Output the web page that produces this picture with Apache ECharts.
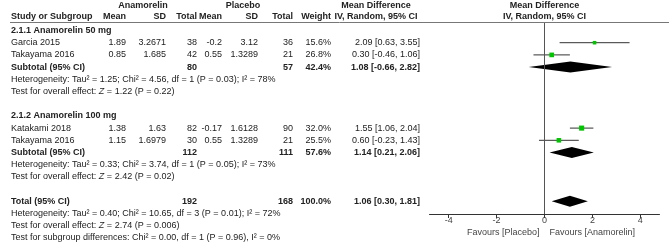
<!DOCTYPE html>
<html>
<head>
<meta charset="utf-8">
<script src="https://cdn.jsdelivr.net/npm/echarts@6/dist/echarts.min.js"></script>
<style>
  html, body { margin: 0; padding: 0; background: #fff; }
  #chart { width: 669px; height: 247px; }
</style>
</head>
<body>
<div id="chart"></div>
<script>
// study level data
const studyNames = ['Garcia 2015', 'Takayama 2016', 'Katakami 2018', 'Takayama 2016'];
const studyGroup = [0, 0, 1, 1];
const anamMean = [1.89, 0.85, 1.38, 1.15];
const anamSD = [3.2671, 1.685, 1.63, 1.6979];
const anamTotal = [38, 42, 82, 30];
const placMean = [-0.2, 0.55, -0.17, 0.55];
const placSD = [3.12, 1.3289, 1.6128, 1.3289];
const placTotal = [36, 21, 90, 21];
const weights = [15.6, 26.8, 32.0, 25.5];
const md = [2.09, 0.30, 1.55, 0.60];
const mdLow = [0.63, -0.46, 1.06, -0.23];
const mdHigh = [3.55, 1.06, 2.04, 1.43];

// subgroups
const groupNames = ['2.1.1 Anamorelin 50 mg', '2.1.2 Anamorelin 100 mg'];
const groupAnamTotal = [80, 112];
const groupPlacTotal = [57, 111];
const groupWeight = [42.4, 57.6];
const groupMD = [1.08, 1.14];
const groupLow = [-0.66, 0.21];
const groupHigh = [2.82, 2.06];
const groupTau2 = [1.25, 0.33];
const groupChi2 = [4.56, 3.74];
const groupDf = [1, 1];
const groupHetP = ['0.03', '0.05'];
const groupI2 = [78, 73];
const groupZ = [1.22, 2.42];
const groupZP = ['0.22', '0.02'];

// overall
const totalAnam = 192;
const totalPlac = 168;
const totalWeight = 100.0;
const totalMD = 1.06;
const totalLow = 0.30;
const totalHigh = 1.81;
const totalTau2 = 0.40;
const totalChi2 = 10.65;
const totalDf = 3;
const totalHetP = '0.01';
const totalI2 = 72;
const totalZ = 2.74;
const totalZP = '0.006';
const subgroupChi2 = 0.00;
const subgroupDf = 1;
const subgroupP = '0.96';
const subgroupI2 = 0;

const xTicks = [-4, -2, 0, 2, 4];

// layout
const W = 669, H = 247;
const ROW0 = 30.5, ROWH = 12.2;
const PLOT = {left: 429.5, right: 9.5, top: 23, bottom: 33};
const X_MIN = -4.8, X_MAX = 4.8;
const COL = {name: 11, aMean: 126, aSD: 166, aTot: 197, pMean: 222, pSD: 258, pTot: 293, weight: 331, md: 420, mdHead: 376, aHead: 143, pHead: 243};
const FONT = '"Liberation Sans", Arial, sans-serif';
const zeroPx = PLOT.left + (0 - X_MIN) / (X_MAX - X_MIN) * (W - PLOT.left - PLOT.right);
const pxRow = y => (y - ROW0) / ROWH;

const cells = [];
function cell(x, row, text, opts) {
  cells.push(Object.assign({x: x, row: row, text: text, align: 'left', bold: false, size: 9, color: '#222'}, opts || {}));
}
const R = {align: 'right'};
const RB = {align: 'right', bold: true};
const CB = {align: 'center', bold: true};
const fmtCI = (m, l, h) => m.toFixed(2) + ' [' + l.toFixed(2) + ', ' + h.toFixed(2) + ']';
const hetText = (t, c, d, p, i) => 'Heterogeneity: Tau² = ' + t.toFixed(2) + '; Chi² = ' + c.toFixed(2) + ', df = ' + d + ' (P = ' + p + '); I² = ' + i + '%';
const zText = (z, p) => 'Test for overall effect: {i|Z} = ' + z.toFixed(2) + ' (P = ' + p + ')';

// header
const H1 = pxRow(5.5), H2 = pxRow(17);
cell(COL.aHead, H1, 'Anamorelin', CB);
cell(COL.pHead, H1, 'Placebo', CB);
cell(COL.mdHead, H1, 'Mean Difference', CB);
cell(zeroPx, H1, 'Mean Difference', CB);
cell(COL.name, H2, 'Study or Subgroup', {bold: true});
cell(COL.aMean, H2, 'Mean', RB);
cell(COL.aSD, H2, 'SD', RB);
cell(COL.aTot, H2, 'Total', RB);
cell(COL.pMean, H2, 'Mean', RB);
cell(COL.pSD, H2, 'SD', RB);
cell(COL.pTot, H2, 'Total', RB);
cell(COL.weight, H2, 'Weight', RB);
cell(COL.mdHead, H2, 'IV, Random, 95% CI', CB);
cell(zeroPx, H2, 'IV, Random, 95% CI', CB);

const studyRow = [];
const diamonds = [];
let r = 0;
groupNames.forEach((g, gi) => {
  cell(COL.name, r, g, {bold: true});
  r++;
  studyNames.forEach((s, i) => {
    if (studyGroup[i] !== gi) return;
    studyRow[i] = r;
    cell(COL.name, r, s);
    cell(COL.aMean, r, String(anamMean[i]), R);
    cell(COL.aSD, r, String(anamSD[i]), R);
    cell(COL.aTot, r, String(anamTotal[i]), R);
    cell(COL.pMean, r, String(placMean[i]), R);
    cell(COL.pSD, r, String(placSD[i]), R);
    cell(COL.pTot, r, String(placTotal[i]), R);
    cell(COL.weight, r, weights[i].toFixed(1) + '%', R);
    cell(COL.md, r, fmtCI(md[i], mdLow[i], mdHigh[i]), R);
    r++;
  });
  cell(COL.name, r, 'Subtotal (95% CI)', {bold: true});
  cell(COL.aTot, r, String(groupAnamTotal[gi]), RB);
  cell(COL.pTot, r, String(groupPlacTotal[gi]), RB);
  cell(COL.weight, r, groupWeight[gi].toFixed(1) + '%', RB);
  cell(COL.md, r, fmtCI(groupMD[gi], groupLow[gi], groupHigh[gi]), RB);
  diamonds.push([groupMD[gi], r, groupLow[gi], groupHigh[gi]]);
  r++;
  cell(COL.name, r, hetText(groupTau2[gi], groupChi2[gi], groupDf[gi], groupHetP[gi], groupI2[gi]));
  r++;
  cell(COL.name, r, zText(groupZ[gi], groupZP[gi]));
  r += 2;
});
cell(COL.name, r, 'Total (95% CI)', {bold: true});
cell(COL.aTot, r, String(totalAnam), RB);
cell(COL.pTot, r, String(totalPlac), RB);
cell(COL.weight, r, totalWeight.toFixed(1) + '%', RB);
cell(COL.md, r, fmtCI(totalMD, totalLow, totalHigh), RB);
diamonds.push([totalMD, r, totalLow, totalHigh]);
r++;
cell(COL.name, r, hetText(totalTau2, totalChi2, totalDf, totalHetP, totalI2));
r++;
cell(COL.name, r, zText(totalZ, totalZP));
r++;
cell(COL.name, r, 'Test for subgroup differences: Chi² = ' + subgroupChi2.toFixed(2) + ', df = ' + subgroupDf + ' (P = ' + subgroupP + '), I² = ' + subgroupI2 + '%');

const favRow = pxRow(233);
cell(zeroPx - 5, favRow, 'Favours [Placebo]', {align: 'right', color: '#444'});
cell(zeroPx + 5, favRow, 'Favours [Anamorelin]', {color: '#444'});

const chart = echarts.init(document.getElementById('chart'), null, {renderer: 'canvas'});

const option = {
  animation: false,
  backgroundColor: '#fff',
  grid: [
    {left: 0, right: 0, top: 0, bottom: 0},
    {left: PLOT.left, right: PLOT.right, top: PLOT.top, bottom: PLOT.bottom}
  ],
  xAxis: [
    {gridIndex: 0, type: 'value', min: 0, max: W, show: false},
    {
      gridIndex: 1, type: 'value', min: X_MIN, max: X_MAX,
      axisLine: {show: true, onZero: false, lineStyle: {color: '#333', width: 1}},
      axisTick: {show: true, customValues: xTicks, length: 4, lineStyle: {color: '#333'}},
      axisLabel: {customValues: xTicks, fontSize: 9, fontFamily: FONT, color: '#444', margin: 2},
      splitLine: {show: false}
    }
  ],
  yAxis: [
    {gridIndex: 0, type: 'value', inverse: true, min: pxRow(0), max: pxRow(H), show: false},
    {gridIndex: 1, type: 'value', inverse: true, min: pxRow(PLOT.top), max: pxRow(H - PLOT.bottom), show: false}
  ],
  graphic: [{
    type: 'line', silent: true,
    shape: {x1: COL.name - 1, y1: PLOT.top - 0.5, x2: W, y2: PLOT.top - 0.5},
    style: {stroke: '#777', lineWidth: 1}
  }],
  series: [
    {
      type: 'custom', name: 'table', xAxisIndex: 0, yAxisIndex: 0, silent: true,
      data: cells.map(c => [c.x, c.row]),
      renderItem: (params, api) => {
        const c = cells[params.dataIndex];
        const p = api.coord([api.value(0), api.value(1)]);
        const font = (c.bold ? 'bold ' : '') + c.size + 'px ' + FONT;
        return {
          type: 'text', x: p[0], y: p[1],
          style: {
            text: c.text, fill: c.color, font: font,
            align: c.align, verticalAlign: 'middle',
            rich: {i: {fontStyle: 'italic', fontSize: c.size, fontFamily: FONT, fill: c.color}}
          }
        };
      }
    },
    {
      type: 'custom', name: 'studies', xAxisIndex: 1, yAxisIndex: 1, silent: true,
      data: studyNames.map((s, i) => [md[i], studyRow[i], mdLow[i], mdHigh[i], weights[i]]),
      renderItem: (params, api) => {
        const y = api.value(1);
        const p = api.coord([api.value(0), y]);
        const lo = api.coord([api.value(2), y]);
        const hi = api.coord([api.value(3), y]);
        const s = 0.9 * Math.sqrt(api.value(4));
        return {
          type: 'group',
          children: [
            {type: 'line', shape: {x1: lo[0], y1: p[1], x2: hi[0], y2: p[1]}, style: {stroke: '#333', lineWidth: 1}},
            {type: 'rect', shape: {x: p[0] - s / 2, y: p[1] - s / 2, width: s, height: s}, style: {fill: '#00c400'}}
          ]
        };
      },
      markLine: {
        silent: true, symbol: ['none', 'none'], label: {show: false},
        lineStyle: {color: '#555', width: 1, type: 'solid'},
        data: [{xAxis: 0}]
      }
    },
    {
      type: 'custom', name: 'pooled', xAxisIndex: 1, yAxisIndex: 1, silent: true,
      data: diamonds,
      renderItem: (params, api) => {
        const y = api.value(1);
        const p = api.coord([api.value(0), y]);
        const lo = api.coord([api.value(2), y]);
        const hi = api.coord([api.value(3), y]);
        const h = 5.5;
        return {
          type: 'polygon',
          shape: {points: [[lo[0], p[1]], [p[0], p[1] - h], [hi[0], p[1]], [p[0], p[1] + h]]},
          style: {fill: '#000'}
        };
      }
    }
  ]
};

chart.setOption(option);
</script>
</body>
</html>
